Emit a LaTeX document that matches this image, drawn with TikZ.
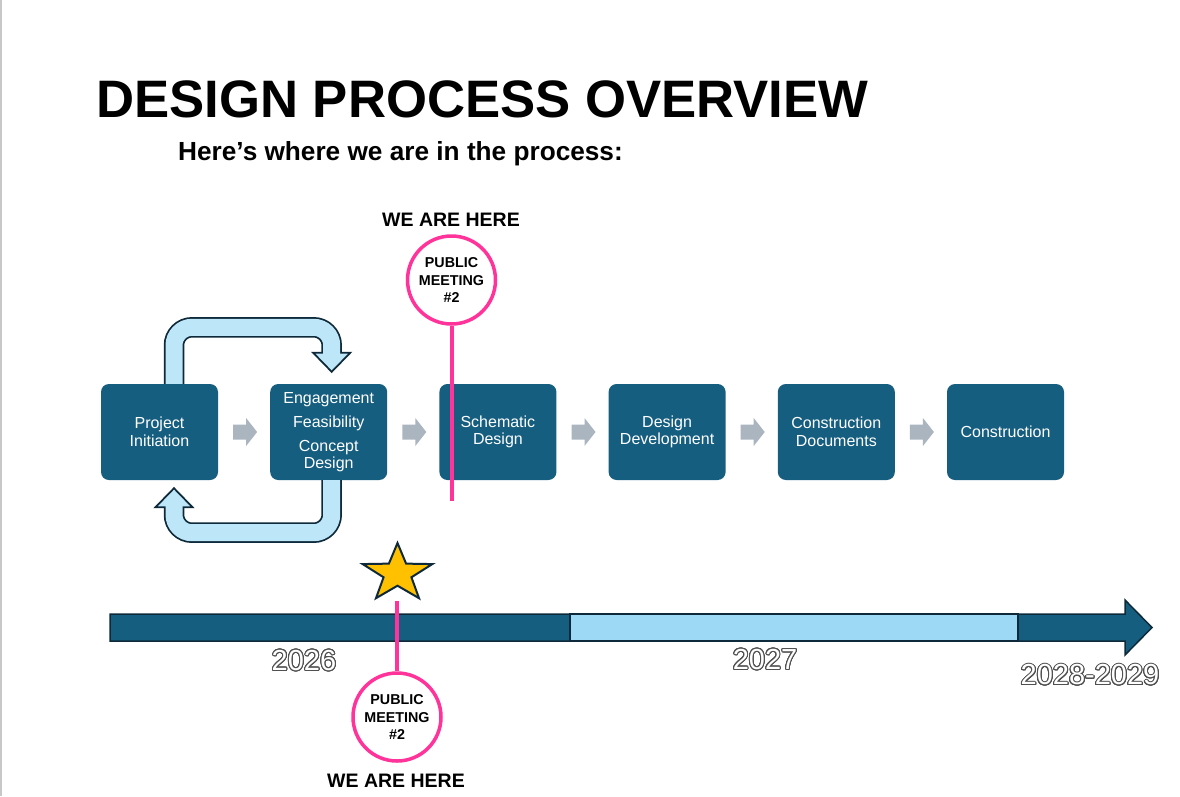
\documentclass[tikz,border=0pt]{standalone}
\usepackage{fontspec}
\setmainfont{Liberation Sans}
\usepackage[copies]{contour}
\usetikzlibrary{positioning,calc,shapes.geometric}
\contourlength{1pt}
\contournumber{24}
\definecolor{stageblue}{RGB}{22,94,128}
\definecolor{loopfill}{RGB}{190,230,249}
\definecolor{loopdark}{RGB}{14,42,58}
\definecolor{barlight}{RGB}{157,217,244}
\definecolor{meetpink}{RGB}{255,51,153}
\definecolor{stargold}{RGB}{255,192,0}
\definecolor{flowgray}{RGB}{171,181,191}
\definecolor{edgegray}{RGB}{200,200,200}
\definecolor{yearline}{RGB}{80,80,80}
\begin{document}
\begin{tikzpicture}[x=1pt,y=-1pt,
  font=\fontsize{16}{17.5}\selectfont,
  stage/.style={fill=stageblue,rounded corners=8pt,text=white,
    minimum width=117pt,minimum height=96pt,align=center,inner sep=2pt},
  meeting/.style={circle,draw=meetpink,line width=3.5pt,fill=white,
    minimum size=88pt,inner sep=0pt,align=center,
    font=\fontsize{14.3}{17.5}\selectfont\bfseries},
  here/.style={font=\fontsize{19.5}{22}\selectfont\bfseries,inner sep=0pt},
  pinkline/.style={draw=meetpink,line width=4pt},
  loopedge/.style={draw=loopdark,line width=20.5pt,rounded corners=18pt},
  loopcore/.style={draw=loopfill,line width=17pt,rounded corners=18pt,
    shorten >=-2.5pt},
  loophead/.style={fill=loopfill,draw=loopdark,line width=1.75pt},
  bardark/.style={fill=stageblue,draw=loopdark,line width=1.5pt},
  barpale/.style={fill=barlight,draw=loopdark,line width=2.5pt},
  year/.style={font=\fontsize{29}{31}\selectfont,text=white,inner sep=0pt},
  goldstar/.style={star,star points=5,star point ratio=2.5,
    minimum size=61pt,inner sep=0pt,fill=stargold,draw=loopdark,
    line width=2pt,xscale=1.2}]
\path[use as bounding box,fill=white] (0,0) rectangle (1180,796);
\fill[edgegray] (0,0) rectangle (2,796);
\node[anchor=base west,inner sep=0pt,font=\fontsize{52.7}{60}\selectfont\bfseries]
  (title) at (96,117) {DESIGN PROCESS OVERVIEW};
\node[anchor=base west,inner sep=0pt,font=\fontsize{26.2}{30}\selectfont\bfseries]
  (subtitle) at (178,160) {Here’s where we are in the process:};
\node[stage] (b1) at (159.5,432) {Project\\Initiation};
\node[stage,right=51.8pt of b1] (b2) {Engagement\\[6.5pt]Feasibility\\[6.5pt]Concept\\Design};
\node[stage,right=51.8pt of b2] (b3) {Schematic\\Design};
\node[stage,right=51.8pt of b3] (b4) {Design\\Development};
\node[stage,right=51.8pt of b4] (b5) {Construction\\Documents};
\node[stage,right=51.8pt of b5] (b6) {Construction};
\foreach \a/\b in {b1/b2,b2/b3,b3/b4,b4/b5,b5/b6}
  \fill[flowgray] ($(\a.east)!0.5!(\b.west)$) ++(-11,-7.5) -- ++(13,0)
    -- ++(0,-6.5) -- ++(11,14) -- ++(-11,14) -- ++(0,-6.5) -- ++(-13,0) -- cycle;
\draw[loopedge] ([xshift=14.5pt]b1.north) -- ++(0,-56.5) -| ([xshift=3pt,yshift=31pt]b2.north);
\filldraw[loophead] ([xshift=3pt,yshift=12pt]b2.north) -- ++(-18.5,-19) -- ++(37,0) -- cycle;
\draw[loopcore] ([xshift=14.5pt]b1.north) -- ++(0,-56.5) -| ([xshift=3pt,yshift=31pt]b2.north);
\draw[loopedge] ([xshift=3pt]b2.south) -- ++(0,52.5) -| ([xshift=14.5pt,yshift=-27pt]b1.south);
\filldraw[loophead] ([xshift=14.5pt,yshift=-8pt]b1.south) -- ++(-18.5,19) -- ++(37,0) -- cycle;
\draw[loopcore] ([xshift=3pt]b2.south) -- ++(0,52.5) -| ([xshift=14.5pt,yshift=-27pt]b1.south);
\node[meeting] (pm1) at (451.5,280) {PUBLIC\\MEETING\\\#2};
\node[here] (here1) at (451,219.5) {WE ARE HERE};
\draw[pinkline] (pm1.south) -- ++(0,175);
\filldraw[bardark] (110,614) -- (1125,614) -- (1125,600) -- (1152,627.5)
  -- (1125,655) -- (1125,641) -- (110,641) -- cycle;
\filldraw[barpale] (570,614) rectangle (1018,641);
\node[year] (y1) at (304,661) {\contour{yearline}{2026}};
\node[year] (y2) at (765,660) {\contour{yearline}{2027}};
\node[year] (y3) at (1090,675.5) {\contour{yearline}{2028-2029}};
\node[goldstar] (star) at (397.5,573.5) {};
\node[meeting] (pm2) at (397,717) {PUBLIC\\MEETING\\\#2};
\node[here] (here2) at (396,780.5) {WE ARE HERE};
\coordinate (pin) at (397,601);
\draw[pinkline] (pin) -- (pm2.north);
\end{tikzpicture}
\end{document}
